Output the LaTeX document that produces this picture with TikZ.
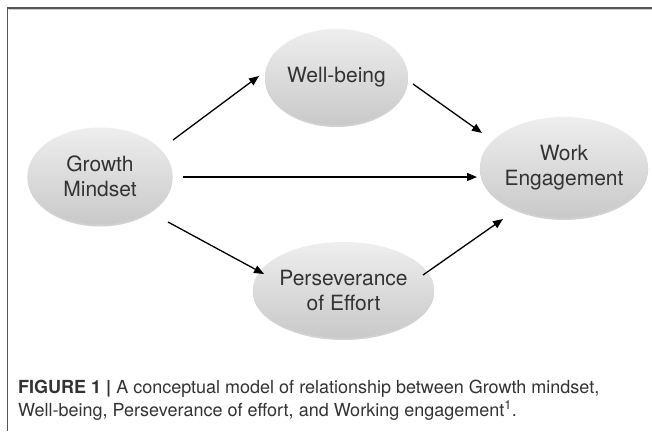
\documentclass[tikz,border=0pt]{standalone}
\usepackage{fontspec}
\setmainfont{TeX Gyre Heros}
\usetikzlibrary{shapes.geometric,arrows.meta,shadows,calc}
\definecolor{txt}{HTML}{333333}
\definecolor{ftop}{HTML}{EEEEEE}
\definecolor{fbot}{HTML}{C9C9C9}
\definecolor{framec}{HTML}{555555}
\tikzset{
  concept/.style={ellipse, inner sep=0pt, align=center, text=txt,
    font=\fontsize{21}{25}\selectfont,
    top color=ftop, bottom color=fbot, draw=none,
    drop shadow={shadow xshift=0pt, shadow yshift=-2pt, opacity=0.18, fill=black}},
  arr/.style={-{Triangle[length=10pt,width=8pt]}, line width=1.3pt, black},
  captxt/.style={anchor=base west, inner sep=0pt, text=txt, font=\fontsize{18}{23}\selectfont}
}
\begin{document}
\begin{tikzpicture}[x=1pt,y=-1pt]
\useasboundingbox (0,0) rectangle (652,431);
\fill[white] (0,0) rectangle (652,431);
% frame
\draw[framec, line width=1.4pt] (652,8) -- (7.5,8) -- (7.5,431);
\draw[gray!40, line width=0.8pt] (8.5,9.6) -- (652,9.6);
% nodes
\node[concept, minimum width=145pt, minimum height=97pt] (gm) at (100,176) {Growth\\Mindset};
\node[concept, minimum width=143pt, minimum height=96pt] (wb) at (336.5,77) {Well-being};
\node[concept, minimum width=156pt, minimum height=101pt] (we) at (564,167.5) {Work\\Engagement};
\node[concept, minimum width=155pt, minimum height=96pt] (pe) at (343.5,290) {Perseverance\\of Effort};
% connectors
\draw[arr] ($(gm.center)+(73,-36)$) -- ($(wb.center)+(-77.5,-1)$);
\draw[arr] ($(wb.center)+(76.5,7)$) -- ($(we.center)+(-82,-34.5)$);
\draw[arr] ($(gm.center)+(83,1)$) -- ($(we.center)+(-87,9.5)$);
\draw[arr] ($(gm.center)+(68,46)$) -- ($(pe.center)+(-79.5,-16)$);
\draw[arr] ($(pe.center)+(79.5,-15)$) -- ($(we.center)+(-61,51.5)$);
% caption
\node[captxt] (cap1) at (18,393) {\textbf{FIGURE 1 |} A conceptual model of relationship between Growth mindset,};
\node[captxt] (cap2) at (18,416) {Well-being, Perseverance of effort, and Working engagement\textsuperscript{1}.};
\end{tikzpicture}
\end{document}
